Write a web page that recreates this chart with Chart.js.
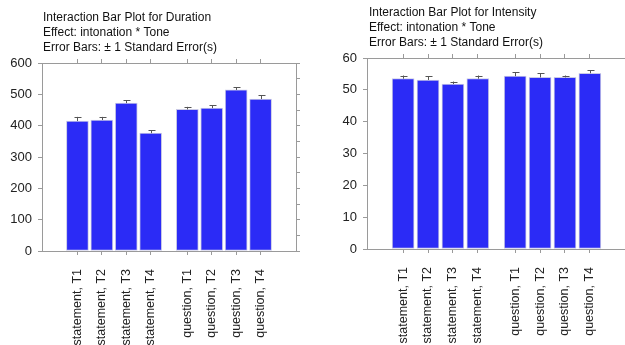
<!DOCTYPE html>
<html>
<head>
<meta charset="utf-8">
<script src="https://cdn.jsdelivr.net/npm/chart.js@4/dist/chart.umd.min.js"></script>
<style>
  html, body { margin: 0; padding: 0; background: #fff; overflow: hidden; }
  #wrap { position: relative; width: 625px; height: 345px; overflow: hidden; }
  canvas { position: absolute; top: 0; }
  #grafDuracion { left: 0; }
  #grafIntensidad { left: 320px; }
</style>
</head>
<body>
<div id="wrap">
  <canvas id="grafDuracion" width="320" height="345"></canvas>
  <canvas id="grafIntensidad" width="320" height="345"></canvas>
</div>
<script>
// datos
const groups = ["statement", "question"];
const tones = ["T1", "T2", "T3", "T4"];

const durationMeans = [415, 418, 472, 376, 452, 456, 514, 485];
const durationSE = [13, 10, 9, 9, 8, 9, 8, 12];

const intensityMeans = [53.5, 53.1, 51.8, 53.5, 54.3, 53.9, 53.9, 55.2];
const intensitySE = [1.0, 1.2, 0.8, 1.0, 1.3, 1.3, 0.6, 1.0];

const durationTitle = ["Interaction Bar Plot for Duration", "Effect: intonation * Tone", "Error Bars: \u00b1 1 Standard Error(s)"];
const intensityTitle = ["Interaction Bar Plot for Intensity", "Effect: intonation * Tone", "Error Bars: \u00b1 1 Standard Error(s)"];

// etiquetas "statement, T1" ... y posicion en el eje (media celda de hueco entre grupos)
const labels = [];
const positions = [];
groups.forEach((g, gi) => {
    tones.forEach((t, ti) => {
        labels.push(g + ", " + t);
        positions.push(1 + ti + gi * 4.5);
    });
});

const FONT = "'Liberation Sans', Arial, sans-serif";
const FRAME = "#9a9a9a";
const BLUE = "#2b2bf6";

// barras de error (solo la parte superior, como en el original)
const errorBars = {
    id: "errorBars",
    afterDatasetsDraw(chart, args, opts) {
        const meta = chart.getDatasetMeta(0);
        const y = chart.scales.y;
        const ctx = chart.ctx;
        ctx.save();
        ctx.strokeStyle = "#555";
        ctx.lineWidth = 1;
        meta.data.forEach((bar, i) => {
            const top = y.getPixelForValue(opts.means[i] + opts.se[i]);
            const x = Math.round(bar.x) + 0.5;
            ctx.beginPath();
            ctx.moveTo(x, bar.y);
            ctx.lineTo(x, top);
            ctx.moveTo(x - 3, Math.round(top) + 0.5);
            ctx.lineTo(x + 4, Math.round(top) + 0.5);
            ctx.stroke();
        });
        ctx.restore();
    }
};

// titulo de tres lineas alineado con el area del grafico
const titleLines = {
    id: "titleLines",
    afterDraw(chart, args, opts) {
        const ctx = chart.ctx;
        ctx.save();
        ctx.fillStyle = "#111";
        ctx.font = "12px " + FONT;
        ctx.textBaseline = "middle";
        opts.lines.forEach((line, i) => {
            ctx.fillText(line, chart.chartArea.left + opts.dx, opts.y0 + i * 15);
        });
        ctx.restore();
    }
};

function crearGrafico(canvasId, means, se, yMax, step, major, title, area) {
    const xTicks = (scale) => { scale.ticks = positions.map(v => ({ value: v })); };
    return new Chart(document.getElementById(canvasId), {
        type: "bar",
        data: {
            datasets: [{
                data: positions.map((p, i) => ({ x: p, y: means[i] })),
                backgroundColor: BLUE,
                borderColor: "#c9c9e6",
                borderWidth: 1,
                borderSkipped: false,
                barThickness: 22
            }]
        },
        plugins: [errorBars, titleLines],
        options: {
            responsive: false,
            animation: false,
            devicePixelRatio: 1,
            layout: { padding: 0 },
            plugins: {
                legend: { display: false },
                tooltip: { enabled: false },
                title: { display: false },
                errorBars: { means: means, se: se },
                titleLines: { lines: title, y0: area.titleY, dx: area.titleDx }
            },
            scales: {
                x: {
                    type: "linear",
                    position: "bottom",
                    offset: false,
                    min: -0.45,
                    max: 9.95,
                    afterBuildTicks: xTicks,
                    afterFit: (s) => { s.height = area.bottom; },
                    grid: { drawOnChartArea: false, offset: false, color: FRAME, tickLength: 4 },
                    border: { color: FRAME },
                    ticks: {
                        autoSkip: false,
                        minRotation: 90,
                        maxRotation: 90,
                        padding: 14,
                        color: "#222",
                        font: { family: FONT, size: 12.5 },
                        callback: (v, i) => labels[i]
                    }
                },
                x2: {
                    type: "linear",
                    axis: "x",
                    position: "top",
                    offset: false,
                    min: -0.45,
                    max: 9.95,
                    afterBuildTicks: xTicks,
                    afterFit: (s) => { s.height = area.top; },
                    grid: { drawOnChartArea: false, offset: false, color: FRAME, tickLength: 4 },
                    border: { color: FRAME },
                    ticks: { display: false }
                },
                y: {
                    position: "left",
                    min: 0,
                    max: yMax,
                    afterFit: (s) => { s.width = area.left; },
                    grid: { drawOnChartArea: false, color: FRAME, tickLength: 4 },
                    border: { color: FRAME },
                    ticks: {
                        stepSize: step,
                        padding: 6,
                        color: "#222",
                        font: { family: FONT, size: 13 },
                        callback: (v) => (v % major === 0 ? String(v) : "")
                    }
                },
                y2: {
                    axis: "y",
                    position: "right",
                    min: 0,
                    max: yMax,
                    afterFit: (s) => { s.width = area.right; },
                    grid: { drawOnChartArea: false, color: FRAME, tickLength: 4 },
                    border: { color: FRAME },
                    ticks: { stepSize: step, display: false }
                }
            }
        }
    });
}

crearGrafico("grafDuracion", durationMeans, durationSE, 600, 50, 100, durationTitle,
    { left: 42, right: 24, top: 63, bottom: 94, titleY: 18, titleDx: 1 });

// el segundo grafico se sale un poco por la derecha, igual que en la imagen
crearGrafico("grafIntensidad", intensityMeans, intensitySE, 60, 5, 10, intensityTitle,
    { left: 47, right: 14, top: 58, bottom: 96, titleY: 13, titleDx: 2 });
</script>
</body>
</html>
